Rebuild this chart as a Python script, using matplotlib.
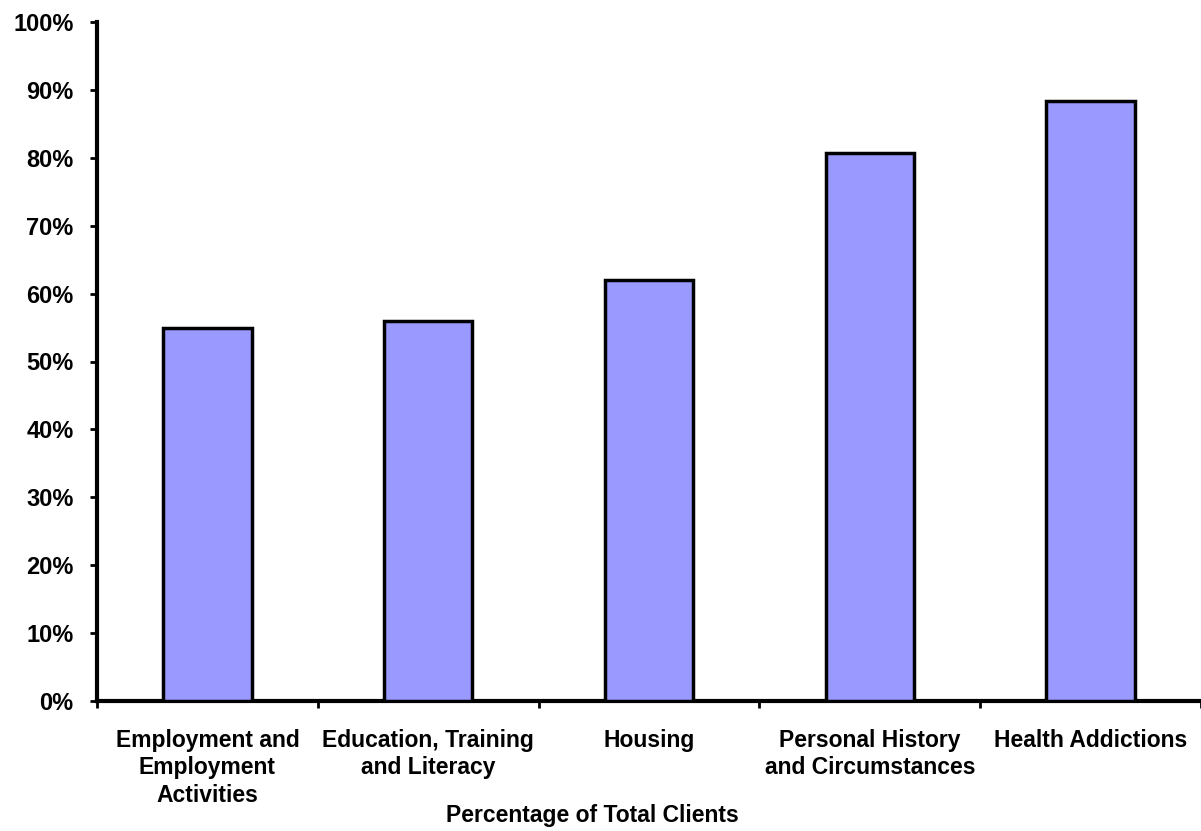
#!/usr/bin/env python

import matplotlib
matplotlib.use('Agg')
import matplotlib.pyplot as plt

CATEGORIES = [
    'Employment and\nEmployment\nActivities',
    'Education, Training\nand Literacy',
    'Housing',
    'Personal History\nand Circumstances',
    'Health Addictions',
]
PERCENTS = [55.0, 56.0, 62.0, 80.7, 88.4]
Y_TICKS = list(range(0, 101, 10))
Y_TICK_LABELS = [f'{t}%' for t in Y_TICKS]
X_LABEL = 'Percentage of Total Clients'


def main() -> None:
    plt.rcParams['font.family'] = ['Liberation Sans', 'DejaVu Sans']
    plt.rcParams['font.weight'] = 'bold'

    fig = plt.figure(figsize=(12.01, 8.31), dpi=100)
    ax = fig.add_axes([97 / 1201, 130 / 831, 1104 / 1201, 679 / 831])

    pos = list(range(len(CATEGORIES)))
    ax.bar(pos, PERCENTS, width=0.4, color='#9999ff', edgecolor='black',
           linewidth=2.5, zorder=3)

    ax.set_ylim(0, 100)
    ax.set_xlim(-0.5, -0.5 + 1104 / 221.5)
    ax.set_yticks(Y_TICKS)
    ax.set_yticklabels(Y_TICK_LABELS, fontsize=17, fontweight='bold')

    # category labels sit between the boundary ticks
    ax.set_xticks([p - 0.5 for p in pos] + [len(pos) - 0.5])
    ax.set_xticklabels([])
    ax.set_xticks(pos, minor=True)
    ax.set_xticklabels(CATEGORIES, minor=True, fontsize=16.5, fontweight='bold',
                       linespacing=1.25, va='top')
    ax.tick_params(axis='x', which='minor', length=0, pad=20)
    ax.tick_params(axis='x', which='major', length=5, width=2, direction='out')
    ax.tick_params(axis='y', length=5, width=2, direction='out', pad=12)

    for side in ('top', 'right'):
        ax.spines[side].set_visible(False)
    for side in ('left', 'bottom'):
        ax.spines[side].set_linewidth(3)

    ax.set_xlabel(X_LABEL, fontsize=16.5, fontweight='bold')
    ax.xaxis.set_label_coords((592 - 97) / 1104, -0.152)

    fig.savefig('out.png', dpi=100)


if __name__ == '__main__':
    main()
